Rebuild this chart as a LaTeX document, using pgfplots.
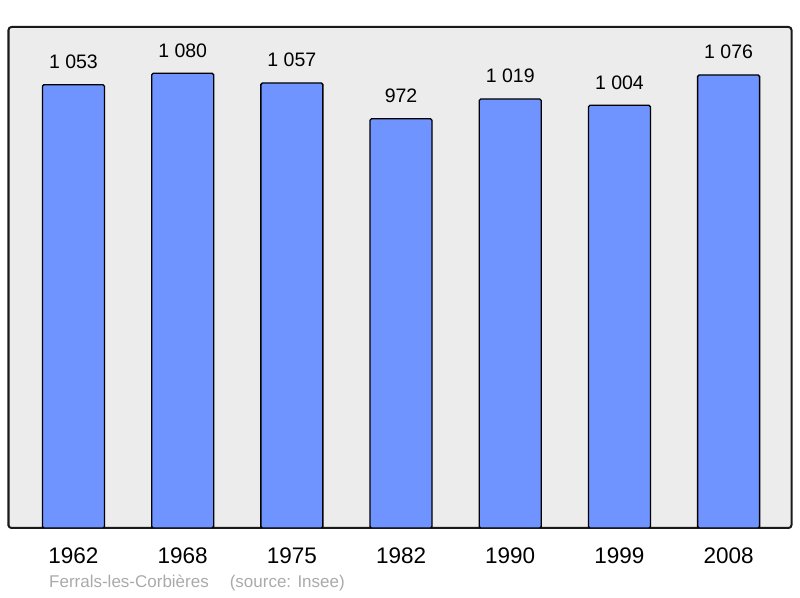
\documentclass[border=0pt]{standalone}
\usepackage{fontspec}
\setmainfont{Liberation Sans}
\usepackage{pgfplots}
\pgfplotsset{compat=1.18}
\definecolor{barblue}{HTML}{7094FF}
\definecolor{panel}{HTML}{ECECEC}
\definecolor{srcgray}{HTML}{AAAAAA}
\begin{document}
\begin{tikzpicture}
\useasboundingbox (0,0) rectangle (800bp,598bp);
\begin{axis}[
  at={(8.5bp,70bp)}, anchor=south west,
  width=783bp, height=501bp, scale only axis,
  axis background/.style={fill=panel},
  axis line style={line width=2bp, draw=black!90, rounded corners=3bp},
  xmin=-0.595, xmax=6.576, ymin=0, ymax=1190,
  xtick=data, xticklabels={1962,1968,1975,1982,1990,1999,2008},
  ytick=\empty, major tick length=0pt,
  xticklabel style={font=\fontsize{22.5bp}{26bp}\selectfont, anchor=center, yshift=-28bp},
  ybar, bar width=62bp,
  point meta=explicit symbolic,
  nodes near coords,
  every node near coord/.append style={font=\fontsize{19.5bp}{23bp}\selectfont, anchor=center, yshift=23bp},
]
\addplot[fill=barblue, draw=black, line width=1.3bp, rounded corners=1.5bp]
  coordinates {(0,1053)[1 053] (1,1080)[1 080] (2,1057)[1 057] (3,972)[972]
               (4,1019)[1 019] (5,1004)[1 004] (6,1076)[1 076]};
\end{axis}
\node[anchor=west, text=srcgray, font=\fontsize{17bp}{20bp}\selectfont, inner sep=0pt]
  at (49bp,15bp) {Ferrals-les-Corbières\hspace{21bp}(source: Insee)};
\end{tikzpicture}
\end{document}
